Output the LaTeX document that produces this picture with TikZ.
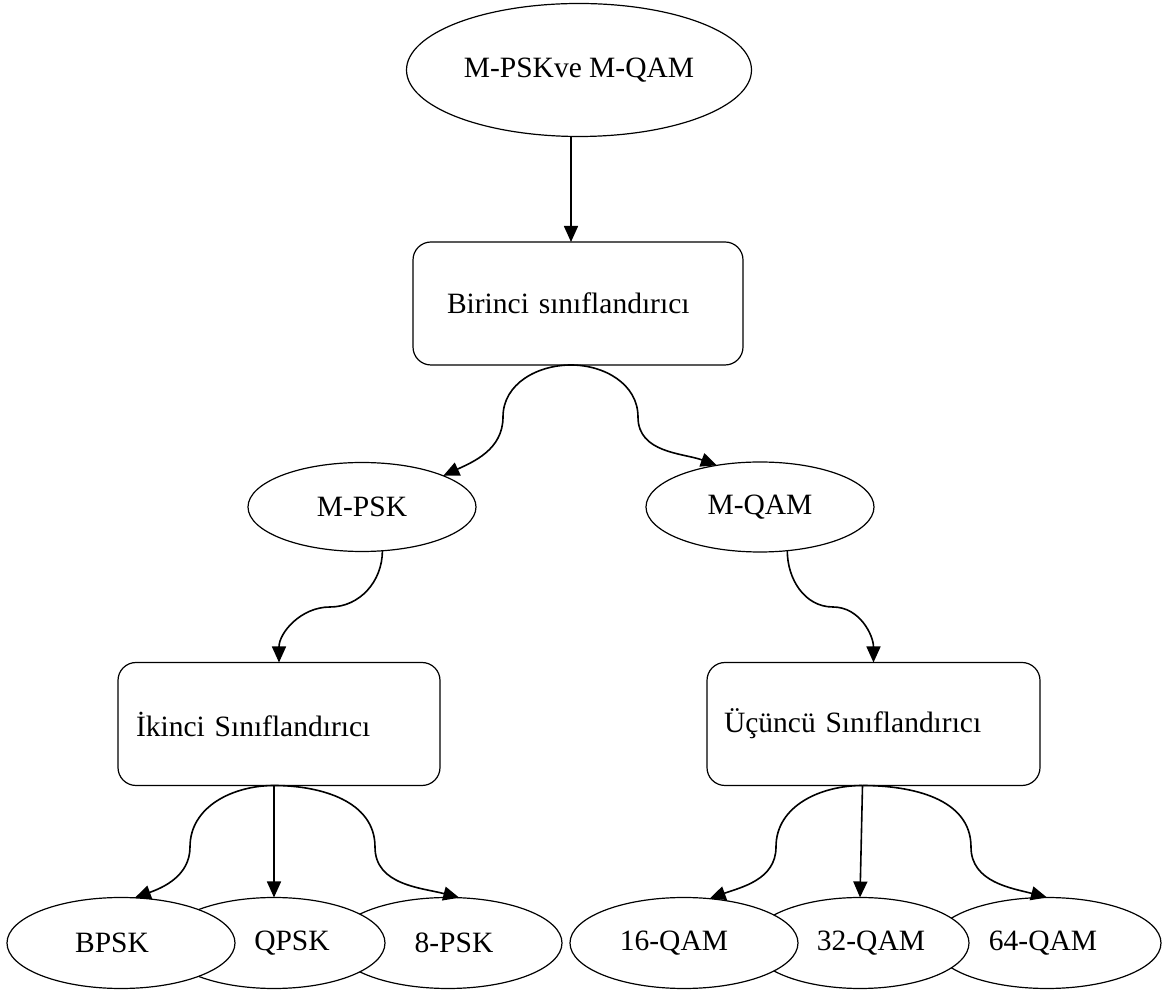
\documentclass[tikz,border=0pt]{standalone}
\usepackage{fontspec}
\setmainfont{Liberation Serif}
\usetikzlibrary{shapes.geometric,arrows.meta,calc}
\begin{document}
\begin{tikzpicture}[x=1pt,y=1pt,
  every node/.style={font=\fontsize{29.5}{33}\selectfont, outer sep=0pt},
  oval/.style={draw, ellipse, fill=white, line width=1.2pt, inner sep=0pt,
    minimum width=228, minimum height=91},
  stepbox/.style={draw, rounded corners=18pt, line width=1.2pt, align=left,
    minimum height=123},
  link/.style={line width=1.6pt, -{Triangle[length=16pt,width=14pt]}}]
\useasboundingbox (0,0) rectangle (1163,994);

% root and first classifier
\node[oval, minimum width=345, minimum height=133] (top) at (579,924) {M-PSKve M-QAM};
\node[stepbox, inner xsep=34pt, text width=262pt, minimum width=330] (b1) at (578,690.5) {Birinci sınıflandırıcı};

% intermediate classes
\node[oval, minimum height=89] (mpsk) at (362,487) {M-PSK};
\node[oval, minimum height=90] (mqam) at (760,487) {M-QAM};

% second and third classifiers
\node[stepbox, inner xsep=18pt, text width=286pt, minimum width=322] (b2) at (279,270) {İkinci Sınıflandırıcı};
\node[stepbox, inner xsep=17pt, text width=299pt, minimum width=333] (b3) at (873.5,270) {Üçüncü Sınıflandırıcı};

% leaf classes (drawn back to front so the left ones overlap)
\node[oval] (psk8) at (448,51) {\hspace*{12pt}8-PSK};
\node[oval, minimum width=222] (qpsk) at (274,51) {\hspace*{36pt}QPSK};
\node[oval] (bpsk) at (121,51) {BPSK\hspace*{18pt}};
\node[oval] (qam64) at (1047,51) {64-QAM\hspace*{8pt}};
\node[oval, minimum width=218] (qam32) at (860,51) {\hspace*{22pt}32-QAM};
\node[oval] (qam16) at (684,51) {16-QAM\hspace*{20pt}};

% connector end points and bends
\coordinate (s0) at ($(top.south)+(-8,0)$);
\coordinate (s1) at ($(b1.south)+(-7,0)$);
\coordinate (s2) at ($(b2.south)+(-5,0)$);
\coordinate (s3) at ($(b3.south)+(-11,0)$);
\coordinate (k1l) at (503,577);
\coordinate (k1r) at (638,577);
\coordinate (kp) at (330,387);
\coordinate (kq) at (833,387);
\coordinate (k2l) at (190,147);
\coordinate (k2r) at (375,147);
\coordinate (k3l) at (776,147);
\coordinate (k3r) at (971,147);

\draw[link] (s0) -- (s0 |- b1.north);

\draw[link] (s1) to[out=180,in=90] (k1l) to[out=-90,in=25] (mpsk.21);
\draw[link] (s1) to[out=0,in=90] (k1r) to[out=-90,in=160] (mqam.136);

\draw[link] (mpsk.-65) to[out=-90,in=0] (kp) to[out=180,in=90] (b2.north);
\draw[link] (mqam.-58) to[out=-90,in=180] (kq) to[out=0,in=90] (b3.north);

\draw[link] (s2) to[out=180,in=90] (k2l) to[out=-90,in=20] (bpsk.73);
\draw[link] (s2) -- (s2 |- qpsk.north);
\draw[link] (s2) to[out=0,in=90] (k2r) to[out=-90,in=165] (psk8.76);

\draw[link] (s3) to[out=180,in=90] (k3l) to[out=-90,in=20] (qam16.60);
\draw[link] (s3) -- (qam32.north);
\draw[link] (s3) to[out=0,in=90] (k3r) to[out=-90,in=165] (qam64.north);
\end{tikzpicture}
\end{document}
